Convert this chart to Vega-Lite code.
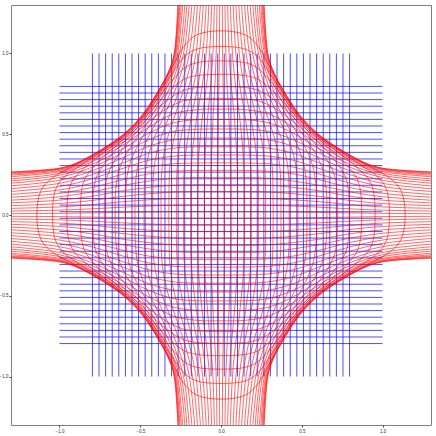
{
 "$schema": "https://vega.github.io/schema/vega-lite/v6.json",
 "width": 420, "height": 420,
 "autosize": "none",
 "padding": {"left": 11, "top": 5, "right": 5, "bottom": 11},
 "config": {"view": {"stroke": "#808080", "strokeWidth": 1},
  "axis": {"grid": false, "domain": false, "tickColor": "#444", "tickSize": 2, "labelFontSize": 4.5, "labelColor": "#333", "labelPadding": 1, "title": null}},
 "datasets": {
  "grid": [{"p":-0.7959},{"p":-0.7551},{"p":-0.7143},{"p":-0.6735},{"p":-0.6327},{"p":-0.5918},{"p":-0.551},{"p":-0.5102},{"p":-0.4694},{"p":-0.4286},{"p":-0.3878},{"p":-0.3469},{"p":-0.3061},{"p":-0.2653},{"p":-0.2245},{"p":-0.1837},{"p":-0.1429},{"p":-0.102},{"p":-0.0612},{"p":-0.0204},{"p":0.0204},{"p":0.0612},{"p":0.102},{"p":0.1429},{"p":0.1837},{"p":0.2245},{"p":0.2653},{"p":0.3061},{"p":0.3469},{"p":0.3878},{"p":0.4286},{"p":0.4694},{"p":0.5102},{"p":0.551},{"p":0.5918},{"p":0.6327},{"p":0.6735},{"p":0.7143},{"p":0.7551},{"p":0.7959}],
  "warp": [
{"k":1,"x":0.008,"y":-1.35},{"k":1,"x":0.01,"y":-1},{"k":1,"x":0.013,"y":-0.8},{"k":1,"x":0.016,"y":-0.6},{"k":1,"x":0.02,"y":-0.3},{"k":1,"x":0.02,"y":0},{"k":1,"x":0.02,"y":0.3},{"k":1,"x":0.016,"y":0.6},{"k":1,"x":0.013,"y":0.8},{"k":1,"x":0.01,"y":1},{"k":1,"x":0.008,"y":1.35},
{"k":-1,"x":-0.008,"y":-1.35},{"k":-1,"x":-0.01,"y":-1},{"k":-1,"x":-0.013,"y":-0.8},{"k":-1,"x":-0.016,"y":-0.6},{"k":-1,"x":-0.02,"y":-0.3},{"k":-1,"x":-0.02,"y":0},{"k":-1,"x":-0.02,"y":0.3},{"k":-1,"x":-0.016,"y":0.6},{"k":-1,"x":-0.013,"y":0.8},{"k":-1,"x":-0.01,"y":1},{"k":-1,"x":-0.008,"y":1.35},
{"k":2,"x":0.024,"y":-1.35},{"k":2,"x":0.03,"y":-1},{"k":2,"x":0.038,"y":-0.8},{"k":2,"x":0.049,"y":-0.6},{"k":2,"x":0.06,"y":-0.3},{"k":2,"x":0.061,"y":0},{"k":2,"x":0.06,"y":0.3},{"k":2,"x":0.049,"y":0.6},{"k":2,"x":0.038,"y":0.8},{"k":2,"x":0.03,"y":1},{"k":2,"x":0.024,"y":1.35},
{"k":-2,"x":-0.024,"y":-1.35},{"k":-2,"x":-0.03,"y":-1},{"k":-2,"x":-0.038,"y":-0.8},{"k":-2,"x":-0.049,"y":-0.6},{"k":-2,"x":-0.06,"y":-0.3},{"k":-2,"x":-0.061,"y":0},{"k":-2,"x":-0.06,"y":0.3},{"k":-2,"x":-0.049,"y":0.6},{"k":-2,"x":-0.038,"y":0.8},{"k":-2,"x":-0.03,"y":1},{"k":-2,"x":-0.024,"y":1.35},
{"k":3,"x":0.04,"y":-1.35},{"k":3,"x":0.05,"y":-1},{"k":3,"x":0.064,"y":-0.8},{"k":3,"x":0.083,"y":-0.6},{"k":3,"x":0.101,"y":-0.3},{"k":3,"x":0.103,"y":0},{"k":3,"x":0.101,"y":0.3},{"k":3,"x":0.083,"y":0.6},{"k":3,"x":0.064,"y":0.8},{"k":3,"x":0.05,"y":1},{"k":3,"x":0.04,"y":1.35},
{"k":-3,"x":-0.04,"y":-1.35},{"k":-3,"x":-0.05,"y":-1},{"k":-3,"x":-0.064,"y":-0.8},{"k":-3,"x":-0.083,"y":-0.6},{"k":-3,"x":-0.101,"y":-0.3},{"k":-3,"x":-0.103,"y":0},{"k":-3,"x":-0.101,"y":0.3},{"k":-3,"x":-0.083,"y":0.6},{"k":-3,"x":-0.064,"y":0.8},{"k":-3,"x":-0.05,"y":1},{"k":-3,"x":-0.04,"y":1.35},
{"k":4,"x":0.056,"y":-1.35},{"k":4,"x":0.071,"y":-1},{"k":4,"x":0.09,"y":-0.8},{"k":4,"x":0.116,"y":-0.6},{"k":4,"x":0.142,"y":-0.3},{"k":4,"x":0.145,"y":0},{"k":4,"x":0.142,"y":0.3},{"k":4,"x":0.116,"y":0.6},{"k":4,"x":0.09,"y":0.8},{"k":4,"x":0.071,"y":1},{"k":4,"x":0.056,"y":1.35},
{"k":-4,"x":-0.056,"y":-1.35},{"k":-4,"x":-0.071,"y":-1},{"k":-4,"x":-0.09,"y":-0.8},{"k":-4,"x":-0.116,"y":-0.6},{"k":-4,"x":-0.142,"y":-0.3},{"k":-4,"x":-0.145,"y":0},{"k":-4,"x":-0.142,"y":0.3},{"k":-4,"x":-0.116,"y":0.6},{"k":-4,"x":-0.09,"y":0.8},{"k":-4,"x":-0.071,"y":1},{"k":-4,"x":-0.056,"y":1.35},
{"k":5,"x":0.073,"y":-1.35},{"k":5,"x":0.092,"y":-1},{"k":5,"x":0.116,"y":-0.8},{"k":5,"x":0.151,"y":-0.6},{"k":5,"x":0.184,"y":-0.3},{"k":5,"x":0.187,"y":0},{"k":5,"x":0.184,"y":0.3},{"k":5,"x":0.151,"y":0.6},{"k":5,"x":0.116,"y":0.8},{"k":5,"x":0.092,"y":1},{"k":5,"x":0.073,"y":1.35},
{"k":-5,"x":-0.073,"y":-1.35},{"k":-5,"x":-0.092,"y":-1},{"k":-5,"x":-0.116,"y":-0.8},{"k":-5,"x":-0.151,"y":-0.6},{"k":-5,"x":-0.184,"y":-0.3},{"k":-5,"x":-0.187,"y":0},{"k":-5,"x":-0.184,"y":0.3},{"k":-5,"x":-0.151,"y":0.6},{"k":-5,"x":-0.116,"y":0.8},{"k":-5,"x":-0.092,"y":1},{"k":-5,"x":-0.073,"y":1.35},
{"k":6,"x":0.089,"y":-1.35},{"k":6,"x":0.113,"y":-1},{"k":6,"x":0.143,"y":-0.8},{"k":6,"x":0.185,"y":-0.6},{"k":6,"x":0.227,"y":-0.3},{"k":6,"x":0.231,"y":0},{"k":6,"x":0.227,"y":0.3},{"k":6,"x":0.185,"y":0.6},{"k":6,"x":0.143,"y":0.8},{"k":6,"x":0.113,"y":1},{"k":6,"x":0.089,"y":1.35},
{"k":-6,"x":-0.089,"y":-1.35},{"k":-6,"x":-0.113,"y":-1},{"k":-6,"x":-0.143,"y":-0.8},{"k":-6,"x":-0.185,"y":-0.6},{"k":-6,"x":-0.227,"y":-0.3},{"k":-6,"x":-0.231,"y":0},{"k":-6,"x":-0.227,"y":0.3},{"k":-6,"x":-0.185,"y":0.6},{"k":-6,"x":-0.143,"y":0.8},{"k":-6,"x":-0.113,"y":1},{"k":-6,"x":-0.089,"y":1.35},
{"k":7,"x":0.107,"y":-1.35},{"k":7,"x":0.134,"y":-1},{"k":7,"x":0.17,"y":-0.8},{"k":7,"x":0.22,"y":-0.6},{"k":7,"x":0.254,"y":-0.45},{"k":7,"x":0.271,"y":-0.3},{"k":7,"x":0.276,"y":-0.15},{"k":7,"x":0.276,"y":0},{"k":7,"x":0.276,"y":0.15},{"k":7,"x":0.271,"y":0.3},{"k":7,"x":0.254,"y":0.45},{"k":7,"x":0.22,"y":0.6},{"k":7,"x":0.17,"y":0.8},{"k":7,"x":0.134,"y":1},{"k":7,"x":0.107,"y":1.35},
{"k":-7,"x":-0.107,"y":-1.35},{"k":-7,"x":-0.134,"y":-1},{"k":-7,"x":-0.17,"y":-0.8},{"k":-7,"x":-0.22,"y":-0.6},{"k":-7,"x":-0.254,"y":-0.45},{"k":-7,"x":-0.271,"y":-0.3},{"k":-7,"x":-0.276,"y":-0.15},{"k":-7,"x":-0.276,"y":0},{"k":-7,"x":-0.276,"y":0.15},{"k":-7,"x":-0.271,"y":0.3},{"k":-7,"x":-0.254,"y":0.45},{"k":-7,"x":-0.22,"y":0.6},{"k":-7,"x":-0.17,"y":0.8},{"k":-7,"x":-0.134,"y":1},{"k":-7,"x":-0.107,"y":1.35},
{"k":8,"x":0.124,"y":-1.35},{"k":8,"x":0.155,"y":-1},{"k":8,"x":0.197,"y":-0.8},{"k":8,"x":0.256,"y":-0.6},{"k":8,"x":0.296,"y":-0.45},{"k":8,"x":0.317,"y":-0.3},{"k":8,"x":0.322,"y":-0.15},{"k":8,"x":0.323,"y":0},{"k":8,"x":0.322,"y":0.15},{"k":8,"x":0.317,"y":0.3},{"k":8,"x":0.296,"y":0.45},{"k":8,"x":0.256,"y":0.6},{"k":8,"x":0.197,"y":0.8},{"k":8,"x":0.155,"y":1},{"k":8,"x":0.124,"y":1.35},
{"k":-8,"x":-0.124,"y":-1.35},{"k":-8,"x":-0.155,"y":-1},{"k":-8,"x":-0.197,"y":-0.8},{"k":-8,"x":-0.256,"y":-0.6},{"k":-8,"x":-0.296,"y":-0.45},{"k":-8,"x":-0.317,"y":-0.3},{"k":-8,"x":-0.322,"y":-0.15},{"k":-8,"x":-0.323,"y":0},{"k":-8,"x":-0.322,"y":0.15},{"k":-8,"x":-0.317,"y":0.3},{"k":-8,"x":-0.296,"y":0.45},{"k":-8,"x":-0.256,"y":0.6},{"k":-8,"x":-0.197,"y":0.8},{"k":-8,"x":-0.155,"y":1},{"k":-8,"x":-0.124,"y":1.35},
{"k":9,"x":0.142,"y":-1.35},{"k":9,"x":0.176,"y":-1},{"k":9,"x":0.224,"y":-0.8},{"k":9,"x":0.291,"y":-0.6},{"k":9,"x":0.338,"y":-0.45},{"k":9,"x":0.364,"y":-0.3},{"k":9,"x":0.371,"y":-0.15},{"k":9,"x":0.371,"y":0},{"k":9,"x":0.371,"y":0.15},{"k":9,"x":0.364,"y":0.3},{"k":9,"x":0.338,"y":0.45},{"k":9,"x":0.291,"y":0.6},{"k":9,"x":0.224,"y":0.8},{"k":9,"x":0.176,"y":1},{"k":9,"x":0.142,"y":1.35},
{"k":-9,"x":-0.142,"y":-1.35},{"k":-9,"x":-0.176,"y":-1},{"k":-9,"x":-0.224,"y":-0.8},{"k":-9,"x":-0.291,"y":-0.6},{"k":-9,"x":-0.338,"y":-0.45},{"k":-9,"x":-0.364,"y":-0.3},{"k":-9,"x":-0.371,"y":-0.15},{"k":-9,"x":-0.371,"y":0},{"k":-9,"x":-0.371,"y":0.15},{"k":-9,"x":-0.364,"y":0.3},{"k":-9,"x":-0.338,"y":0.45},{"k":-9,"x":-0.291,"y":0.6},{"k":-9,"x":-0.224,"y":0.8},{"k":-9,"x":-0.176,"y":1},{"k":-9,"x":-0.142,"y":1.35},
{"k":10,"x":0.159,"y":-1.35},{"k":10,"x":0.196,"y":-1},{"k":10,"x":0.249,"y":-0.8},{"k":10,"x":0.325,"y":-0.6},{"k":10,"x":0.381,"y":-0.45},{"k":10,"x":0.413,"y":-0.3},{"k":10,"x":0.422,"y":-0.15},{"k":10,"x":0.422,"y":0},{"k":10,"x":0.422,"y":0.15},{"k":10,"x":0.413,"y":0.3},{"k":10,"x":0.381,"y":0.45},{"k":10,"x":0.325,"y":0.6},{"k":10,"x":0.249,"y":0.8},{"k":10,"x":0.196,"y":1},{"k":10,"x":0.159,"y":1.35},
{"k":-10,"x":-0.159,"y":-1.35},{"k":-10,"x":-0.196,"y":-1},{"k":-10,"x":-0.249,"y":-0.8},{"k":-10,"x":-0.325,"y":-0.6},{"k":-10,"x":-0.381,"y":-0.45},{"k":-10,"x":-0.413,"y":-0.3},{"k":-10,"x":-0.422,"y":-0.15},{"k":-10,"x":-0.422,"y":0},{"k":-10,"x":-0.422,"y":0.15},{"k":-10,"x":-0.413,"y":0.3},{"k":-10,"x":-0.381,"y":0.45},{"k":-10,"x":-0.325,"y":0.6},{"k":-10,"x":-0.249,"y":0.8},{"k":-10,"x":-0.196,"y":1},{"k":-10,"x":-0.159,"y":1.35},
{"k":11,"x":0.176,"y":-1.35},{"k":11,"x":0.215,"y":-1},{"k":11,"x":0.273,"y":-0.8},{"k":11,"x":0.358,"y":-0.6},{"k":11,"x":0.424,"y":-0.45},{"k":11,"x":0.464,"y":-0.3},{"k":11,"x":0.475,"y":-0.15},{"k":11,"x":0.476,"y":0},{"k":11,"x":0.475,"y":0.15},{"k":11,"x":0.464,"y":0.3},{"k":11,"x":0.424,"y":0.45},{"k":11,"x":0.358,"y":0.6},{"k":11,"x":0.273,"y":0.8},{"k":11,"x":0.215,"y":1},{"k":11,"x":0.176,"y":1.35},
{"k":-11,"x":-0.176,"y":-1.35},{"k":-11,"x":-0.215,"y":-1},{"k":-11,"x":-0.273,"y":-0.8},{"k":-11,"x":-0.358,"y":-0.6},{"k":-11,"x":-0.424,"y":-0.45},{"k":-11,"x":-0.464,"y":-0.3},{"k":-11,"x":-0.475,"y":-0.15},{"k":-11,"x":-0.476,"y":0},{"k":-11,"x":-0.475,"y":0.15},{"k":-11,"x":-0.464,"y":0.3},{"k":-11,"x":-0.424,"y":0.45},{"k":-11,"x":-0.358,"y":0.6},{"k":-11,"x":-0.273,"y":0.8},{"k":-11,"x":-0.215,"y":1},{"k":-11,"x":-0.176,"y":1.35},
{"k":12,"x":0.193,"y":-1.35},{"k":12,"x":0.232,"y":-1},{"k":12,"x":0.295,"y":-0.8},{"k":12,"x":0.388,"y":-0.6},{"k":12,"x":0.465,"y":-0.45},{"k":12,"x":0.516,"y":-0.3},{"k":12,"x":0.531,"y":-0.15},{"k":12,"x":0.532,"y":0},{"k":12,"x":0.531,"y":0.15},{"k":12,"x":0.516,"y":0.3},{"k":12,"x":0.465,"y":0.45},{"k":12,"x":0.388,"y":0.6},{"k":12,"x":0.295,"y":0.8},{"k":12,"x":0.232,"y":1},{"k":12,"x":0.193,"y":1.35},
{"k":-12,"x":-0.193,"y":-1.35},{"k":-12,"x":-0.232,"y":-1},{"k":-12,"x":-0.295,"y":-0.8},{"k":-12,"x":-0.388,"y":-0.6},{"k":-12,"x":-0.465,"y":-0.45},{"k":-12,"x":-0.516,"y":-0.3},{"k":-12,"x":-0.531,"y":-0.15},{"k":-12,"x":-0.532,"y":0},{"k":-12,"x":-0.531,"y":0.15},{"k":-12,"x":-0.516,"y":0.3},{"k":-12,"x":-0.465,"y":0.45},{"k":-12,"x":-0.388,"y":0.6},{"k":-12,"x":-0.295,"y":0.8},{"k":-12,"x":-0.232,"y":1},{"k":-12,"x":-0.193,"y":1.35},
{"k":13,"x":0.208,"y":-1.35},{"k":13,"x":0.246,"y":-1},{"k":13,"x":0.313,"y":-0.8},{"k":13,"x":0.414,"y":-0.6},{"k":13,"x":0.505,"y":-0.45},{"k":13,"x":0.569,"y":-0.3},{"k":13,"x":0.59,"y":-0.15},{"k":13,"x":0.591,"y":0},{"k":13,"x":0.59,"y":0.15},{"k":13,"x":0.569,"y":0.3},{"k":13,"x":0.505,"y":0.45},{"k":13,"x":0.414,"y":0.6},{"k":13,"x":0.313,"y":0.8},{"k":13,"x":0.246,"y":1},{"k":13,"x":0.208,"y":1.35},
{"k":-13,"x":-0.208,"y":-1.35},{"k":-13,"x":-0.246,"y":-1},{"k":-13,"x":-0.313,"y":-0.8},{"k":-13,"x":-0.414,"y":-0.6},{"k":-13,"x":-0.505,"y":-0.45},{"k":-13,"x":-0.569,"y":-0.3},{"k":-13,"x":-0.59,"y":-0.15},{"k":-13,"x":-0.591,"y":0},{"k":-13,"x":-0.59,"y":0.15},{"k":-13,"x":-0.569,"y":0.3},{"k":-13,"x":-0.505,"y":0.45},{"k":-13,"x":-0.414,"y":0.6},{"k":-13,"x":-0.313,"y":0.8},{"k":-13,"x":-0.246,"y":1},{"k":-13,"x":-0.208,"y":1.35},
{"k":14,"x":0.221,"y":-1.35},{"k":14,"x":0.258,"y":-1},{"k":14,"x":0.329,"y":-0.8},{"k":14,"x":0.437,"y":-0.6},{"k":14,"x":0.541,"y":-0.45},{"k":14,"x":0.624,"y":-0.3},{"k":14,"x":0.652,"y":-0.15},{"k":14,"x":0.655,"y":0},{"k":14,"x":0.652,"y":0.15},{"k":14,"x":0.624,"y":0.3},{"k":14,"x":0.541,"y":0.45},{"k":14,"x":0.437,"y":0.6},{"k":14,"x":0.329,"y":0.8},{"k":14,"x":0.258,"y":1},{"k":14,"x":0.221,"y":1.35},
{"k":-14,"x":-0.221,"y":-1.35},{"k":-14,"x":-0.258,"y":-1},{"k":-14,"x":-0.329,"y":-0.8},{"k":-14,"x":-0.437,"y":-0.6},{"k":-14,"x":-0.541,"y":-0.45},{"k":-14,"x":-0.624,"y":-0.3},{"k":-14,"x":-0.652,"y":-0.15},{"k":-14,"x":-0.655,"y":0},{"k":-14,"x":-0.652,"y":0.15},{"k":-14,"x":-0.624,"y":0.3},{"k":-14,"x":-0.541,"y":0.45},{"k":-14,"x":-0.437,"y":0.6},{"k":-14,"x":-0.329,"y":0.8},{"k":-14,"x":-0.258,"y":1},{"k":-14,"x":-0.221,"y":1.35},
{"k":15,"x":0.233,"y":-1.35},{"k":15,"x":0.268,"y":-1},{"k":15,"x":0.296,"y":-0.9},{"k":15,"x":0.341,"y":-0.8},{"k":15,"x":0.394,"y":-0.7},{"k":15,"x":0.455,"y":-0.6},{"k":15,"x":0.512,"y":-0.525},{"k":15,"x":0.574,"y":-0.45},{"k":15,"x":0.634,"y":-0.375},{"k":15,"x":0.679,"y":-0.3},{"k":15,"x":0.708,"y":-0.225},{"k":15,"x":0.718,"y":-0.15},{"k":15,"x":0.722,"y":0},{"k":15,"x":0.718,"y":0.15},{"k":15,"x":0.708,"y":0.225},{"k":15,"x":0.679,"y":0.3},{"k":15,"x":0.634,"y":0.375},{"k":15,"x":0.574,"y":0.45},{"k":15,"x":0.512,"y":0.525},{"k":15,"x":0.455,"y":0.6},{"k":15,"x":0.394,"y":0.7},{"k":15,"x":0.341,"y":0.8},{"k":15,"x":0.296,"y":0.9},{"k":15,"x":0.268,"y":1},{"k":15,"x":0.233,"y":1.35},
{"k":-15,"x":-0.233,"y":-1.35},{"k":-15,"x":-0.268,"y":-1},{"k":-15,"x":-0.296,"y":-0.9},{"k":-15,"x":-0.341,"y":-0.8},{"k":-15,"x":-0.394,"y":-0.7},{"k":-15,"x":-0.455,"y":-0.6},{"k":-15,"x":-0.512,"y":-0.525},{"k":-15,"x":-0.574,"y":-0.45},{"k":-15,"x":-0.634,"y":-0.375},{"k":-15,"x":-0.679,"y":-0.3},{"k":-15,"x":-0.708,"y":-0.225},{"k":-15,"x":-0.718,"y":-0.15},{"k":-15,"x":-0.722,"y":0},{"k":-15,"x":-0.718,"y":0.15},{"k":-15,"x":-0.708,"y":0.225},{"k":-15,"x":-0.679,"y":0.3},{"k":-15,"x":-0.634,"y":0.375},{"k":-15,"x":-0.574,"y":0.45},{"k":-15,"x":-0.512,"y":0.525},{"k":-15,"x":-0.455,"y":0.6},{"k":-15,"x":-0.394,"y":0.7},{"k":-15,"x":-0.341,"y":0.8},{"k":-15,"x":-0.296,"y":0.9},{"k":-15,"x":-0.268,"y":1},{"k":-15,"x":-0.233,"y":1.35},
{"k":16,"x":0.243,"y":-1.35},{"k":16,"x":0.275,"y":-1},{"k":16,"x":0.304,"y":-0.9},{"k":16,"x":0.35,"y":-0.8},{"k":16,"x":0.406,"y":-0.7},{"k":16,"x":0.47,"y":-0.6},{"k":16,"x":0.532,"y":-0.525},{"k":16,"x":0.602,"y":-0.45},{"k":16,"x":0.675,"y":-0.375},{"k":16,"x":0.734,"y":-0.3},{"k":16,"x":0.774,"y":-0.225},{"k":16,"x":0.789,"y":-0.15},{"k":16,"x":0.794,"y":0},{"k":16,"x":0.789,"y":0.15},{"k":16,"x":0.774,"y":0.225},{"k":16,"x":0.734,"y":0.3},{"k":16,"x":0.675,"y":0.375},{"k":16,"x":0.602,"y":0.45},{"k":16,"x":0.532,"y":0.525},{"k":16,"x":0.47,"y":0.6},{"k":16,"x":0.406,"y":0.7},{"k":16,"x":0.35,"y":0.8},{"k":16,"x":0.304,"y":0.9},{"k":16,"x":0.275,"y":1},{"k":16,"x":0.243,"y":1.35},
{"k":-16,"x":-0.243,"y":-1.35},{"k":-16,"x":-0.275,"y":-1},{"k":-16,"x":-0.304,"y":-0.9},{"k":-16,"x":-0.35,"y":-0.8},{"k":-16,"x":-0.406,"y":-0.7},{"k":-16,"x":-0.47,"y":-0.6},{"k":-16,"x":-0.532,"y":-0.525},{"k":-16,"x":-0.602,"y":-0.45},{"k":-16,"x":-0.675,"y":-0.375},{"k":-16,"x":-0.734,"y":-0.3},{"k":-16,"x":-0.774,"y":-0.225},{"k":-16,"x":-0.789,"y":-0.15},{"k":-16,"x":-0.794,"y":0},{"k":-16,"x":-0.789,"y":0.15},{"k":-16,"x":-0.774,"y":0.225},{"k":-16,"x":-0.734,"y":0.3},{"k":-16,"x":-0.675,"y":0.375},{"k":-16,"x":-0.602,"y":0.45},{"k":-16,"x":-0.532,"y":0.525},{"k":-16,"x":-0.47,"y":0.6},{"k":-16,"x":-0.406,"y":0.7},{"k":-16,"x":-0.35,"y":0.8},{"k":-16,"x":-0.304,"y":0.9},{"k":-16,"x":-0.275,"y":1},{"k":-16,"x":-0.243,"y":1.35},
{"k":17,"x":0.251,"y":-1.35},{"k":17,"x":0.281,"y":-1},{"k":17,"x":0.31,"y":-0.9},{"k":17,"x":0.358,"y":-0.8},{"k":17,"x":0.415,"y":-0.7},{"k":17,"x":0.481,"y":-0.6},{"k":17,"x":0.547,"y":-0.525},{"k":17,"x":0.625,"y":-0.45},{"k":17,"x":0.711,"y":-0.375},{"k":17,"x":0.786,"y":-0.3},{"k":17,"x":0.842,"y":-0.225},{"k":17,"x":0.863,"y":-0.15},{"k":17,"x":0.871,"y":0},{"k":17,"x":0.863,"y":0.15},{"k":17,"x":0.842,"y":0.225},{"k":17,"x":0.786,"y":0.3},{"k":17,"x":0.711,"y":0.375},{"k":17,"x":0.625,"y":0.45},{"k":17,"x":0.547,"y":0.525},{"k":17,"x":0.481,"y":0.6},{"k":17,"x":0.415,"y":0.7},{"k":17,"x":0.358,"y":0.8},{"k":17,"x":0.31,"y":0.9},{"k":17,"x":0.281,"y":1},{"k":17,"x":0.251,"y":1.35},
{"k":-17,"x":-0.251,"y":-1.35},{"k":-17,"x":-0.281,"y":-1},{"k":-17,"x":-0.31,"y":-0.9},{"k":-17,"x":-0.358,"y":-0.8},{"k":-17,"x":-0.415,"y":-0.7},{"k":-17,"x":-0.481,"y":-0.6},{"k":-17,"x":-0.547,"y":-0.525},{"k":-17,"x":-0.625,"y":-0.45},{"k":-17,"x":-0.711,"y":-0.375},{"k":-17,"x":-0.786,"y":-0.3},{"k":-17,"x":-0.842,"y":-0.225},{"k":-17,"x":-0.863,"y":-0.15},{"k":-17,"x":-0.871,"y":0},{"k":-17,"x":-0.863,"y":0.15},{"k":-17,"x":-0.842,"y":0.225},{"k":-17,"x":-0.786,"y":0.3},{"k":-17,"x":-0.711,"y":0.375},{"k":-17,"x":-0.625,"y":0.45},{"k":-17,"x":-0.547,"y":0.525},{"k":-17,"x":-0.481,"y":0.6},{"k":-17,"x":-0.415,"y":0.7},{"k":-17,"x":-0.358,"y":0.8},{"k":-17,"x":-0.31,"y":0.9},{"k":-17,"x":-0.281,"y":1},{"k":-17,"x":-0.251,"y":1.35},
{"k":18,"x":0.257,"y":-1.35},{"k":18,"x":0.285,"y":-1},{"k":18,"x":0.315,"y":-0.9},{"k":18,"x":0.363,"y":-0.8},{"k":18,"x":0.422,"y":-0.7},{"k":18,"x":0.489,"y":-0.6},{"k":18,"x":0.56,"y":-0.525},{"k":18,"x":0.644,"y":-0.45},{"k":18,"x":0.743,"y":-0.375},{"k":18,"x":0.835,"y":-0.3},{"k":18,"x":0.911,"y":-0.225},{"k":18,"x":0.943,"y":-0.15},{"k":18,"x":0.954,"y":0},{"k":18,"x":0.943,"y":0.15},{"k":18,"x":0.911,"y":0.225},{"k":18,"x":0.835,"y":0.3},{"k":18,"x":0.743,"y":0.375},{"k":18,"x":0.644,"y":0.45},{"k":18,"x":0.56,"y":0.525},{"k":18,"x":0.489,"y":0.6},{"k":18,"x":0.422,"y":0.7},{"k":18,"x":0.363,"y":0.8},{"k":18,"x":0.315,"y":0.9},{"k":18,"x":0.285,"y":1},{"k":18,"x":0.257,"y":1.35},
{"k":-18,"x":-0.257,"y":-1.35},{"k":-18,"x":-0.285,"y":-1},{"k":-18,"x":-0.315,"y":-0.9},{"k":-18,"x":-0.363,"y":-0.8},{"k":-18,"x":-0.422,"y":-0.7},{"k":-18,"x":-0.489,"y":-0.6},{"k":-18,"x":-0.56,"y":-0.525},{"k":-18,"x":-0.644,"y":-0.45},{"k":-18,"x":-0.743,"y":-0.375},{"k":-18,"x":-0.835,"y":-0.3},{"k":-18,"x":-0.911,"y":-0.225},{"k":-18,"x":-0.943,"y":-0.15},{"k":-18,"x":-0.954,"y":0},{"k":-18,"x":-0.943,"y":0.15},{"k":-18,"x":-0.911,"y":0.225},{"k":-18,"x":-0.835,"y":0.3},{"k":-18,"x":-0.743,"y":0.375},{"k":-18,"x":-0.644,"y":0.45},{"k":-18,"x":-0.56,"y":0.525},{"k":-18,"x":-0.489,"y":0.6},{"k":-18,"x":-0.422,"y":0.7},{"k":-18,"x":-0.363,"y":0.8},{"k":-18,"x":-0.315,"y":0.9},{"k":-18,"x":-0.285,"y":1},{"k":-18,"x":-0.257,"y":1.35},
{"k":19,"x":0.262,"y":-1.35},{"k":19,"x":0.288,"y":-1},{"k":19,"x":0.318,"y":-0.9},{"k":19,"x":0.367,"y":-0.8},{"k":19,"x":0.426,"y":-0.7},{"k":19,"x":0.495,"y":-0.6},{"k":19,"x":0.568,"y":-0.525},{"k":19,"x":0.659,"y":-0.45},{"k":19,"x":0.769,"y":-0.375},{"k":19,"x":0.88,"y":-0.3},{"k":19,"x":0.981,"y":-0.225},{"k":19,"x":1.027,"y":-0.15},{"k":19,"x":1.043,"y":0},{"k":19,"x":1.027,"y":0.15},{"k":19,"x":0.981,"y":0.225},{"k":19,"x":0.88,"y":0.3},{"k":19,"x":0.769,"y":0.375},{"k":19,"x":0.659,"y":0.45},{"k":19,"x":0.568,"y":0.525},{"k":19,"x":0.495,"y":0.6},{"k":19,"x":0.426,"y":0.7},{"k":19,"x":0.367,"y":0.8},{"k":19,"x":0.318,"y":0.9},{"k":19,"x":0.288,"y":1},{"k":19,"x":0.262,"y":1.35},
{"k":-19,"x":-0.262,"y":-1.35},{"k":-19,"x":-0.288,"y":-1},{"k":-19,"x":-0.318,"y":-0.9},{"k":-19,"x":-0.367,"y":-0.8},{"k":-19,"x":-0.426,"y":-0.7},{"k":-19,"x":-0.495,"y":-0.6},{"k":-19,"x":-0.568,"y":-0.525},{"k":-19,"x":-0.659,"y":-0.45},{"k":-19,"x":-0.769,"y":-0.375},{"k":-19,"x":-0.88,"y":-0.3},{"k":-19,"x":-0.981,"y":-0.225},{"k":-19,"x":-1.027,"y":-0.15},{"k":-19,"x":-1.043,"y":0},{"k":-19,"x":-1.027,"y":0.15},{"k":-19,"x":-0.981,"y":0.225},{"k":-19,"x":-0.88,"y":0.3},{"k":-19,"x":-0.769,"y":0.375},{"k":-19,"x":-0.659,"y":0.45},{"k":-19,"x":-0.568,"y":0.525},{"k":-19,"x":-0.495,"y":0.6},{"k":-19,"x":-0.426,"y":0.7},{"k":-19,"x":-0.367,"y":0.8},{"k":-19,"x":-0.318,"y":0.9},{"k":-19,"x":-0.288,"y":1},{"k":-19,"x":-0.262,"y":1.35},
{"k":20,"x":0.265,"y":-1.35},{"k":20,"x":0.29,"y":-1},{"k":20,"x":0.32,"y":-0.9},{"k":20,"x":0.37,"y":-0.8},{"k":20,"x":0.43,"y":-0.7},{"k":20,"x":0.5,"y":-0.6},{"k":20,"x":0.575,"y":-0.525},{"k":20,"x":0.67,"y":-0.45},{"k":20,"x":0.79,"y":-0.375},{"k":20,"x":0.92,"y":-0.3},{"k":20,"x":1.05,"y":-0.225},{"k":20,"x":1.115,"y":-0.15},{"k":20,"x":1.14,"y":0},{"k":20,"x":1.115,"y":0.15},{"k":20,"x":1.05,"y":0.225},{"k":20,"x":0.92,"y":0.3},{"k":20,"x":0.79,"y":0.375},{"k":20,"x":0.67,"y":0.45},{"k":20,"x":0.575,"y":0.525},{"k":20,"x":0.5,"y":0.6},{"k":20,"x":0.43,"y":0.7},{"k":20,"x":0.37,"y":0.8},{"k":20,"x":0.32,"y":0.9},{"k":20,"x":0.29,"y":1},{"k":20,"x":0.265,"y":1.35},
{"k":-20,"x":-0.265,"y":-1.35},{"k":-20,"x":-0.29,"y":-1},{"k":-20,"x":-0.32,"y":-0.9},{"k":-20,"x":-0.37,"y":-0.8},{"k":-20,"x":-0.43,"y":-0.7},{"k":-20,"x":-0.5,"y":-0.6},{"k":-20,"x":-0.575,"y":-0.525},{"k":-20,"x":-0.67,"y":-0.45},{"k":-20,"x":-0.79,"y":-0.375},{"k":-20,"x":-0.92,"y":-0.3},{"k":-20,"x":-1.05,"y":-0.225},{"k":-20,"x":-1.115,"y":-0.15},{"k":-20,"x":-1.14,"y":0},{"k":-20,"x":-1.115,"y":0.15},{"k":-20,"x":-1.05,"y":0.225},{"k":-20,"x":-0.92,"y":0.3},{"k":-20,"x":-0.79,"y":0.375},{"k":-20,"x":-0.67,"y":0.45},{"k":-20,"x":-0.575,"y":0.525},{"k":-20,"x":-0.5,"y":0.6},{"k":-20,"x":-0.43,"y":0.7},{"k":-20,"x":-0.37,"y":0.8},{"k":-20,"x":-0.32,"y":0.9},{"k":-20,"x":-0.29,"y":1},{"k":-20,"x":-0.265,"y":1.35}
  ]
 },
 "layer": [
  {"data": {"name": "grid"}, "mark": {"type": "rule", "color": "#0000ff", "strokeWidth": 0.7},
   "encoding": {"x": {"field": "p", "type": "quantitative", "scale": {"domain": [-1.3, 1.3], "nice": false}, "axis": {"values": [-1, -0.5, 0, 0.5, 1], "format": ".1f"}},
    "y": {"datum": -1, "type": "quantitative", "scale": {"domain": [-1.3, 1.3], "nice": false}, "axis": {"values": [-1, -0.5, 0, 0.5, 1], "format": ".1f"}}, "y2": {"datum": 1}}},
  {"data": {"name": "grid"}, "mark": {"type": "rule", "color": "#0000ff", "strokeWidth": 0.7},
   "encoding": {"y": {"field": "p", "type": "quantitative"}, "x": {"datum": -1, "type": "quantitative"}, "x2": {"datum": 1}}},
  {"data": {"name": "warp"}, "mark": {"type": "line", "color": "#ff0000", "strokeWidth": 0.7, "opacity": 0.85, "interpolate": "catmull-rom", "clip": true},
   "encoding": {"x": {"field": "x", "type": "quantitative"}, "y": {"field": "y", "type": "quantitative"}, "detail": {"field": "k"}, "order": {"field": "y"}}},
  {"data": {"name": "warp"}, "mark": {"type": "line", "color": "#ff0000", "strokeWidth": 0.7, "opacity": 0.85, "interpolate": "catmull-rom", "clip": true},
   "encoding": {"x": {"field": "y", "type": "quantitative"}, "y": {"field": "x", "type": "quantitative"}, "detail": {"field": "k"}, "order": {"field": "y"}}}
 ]
}
